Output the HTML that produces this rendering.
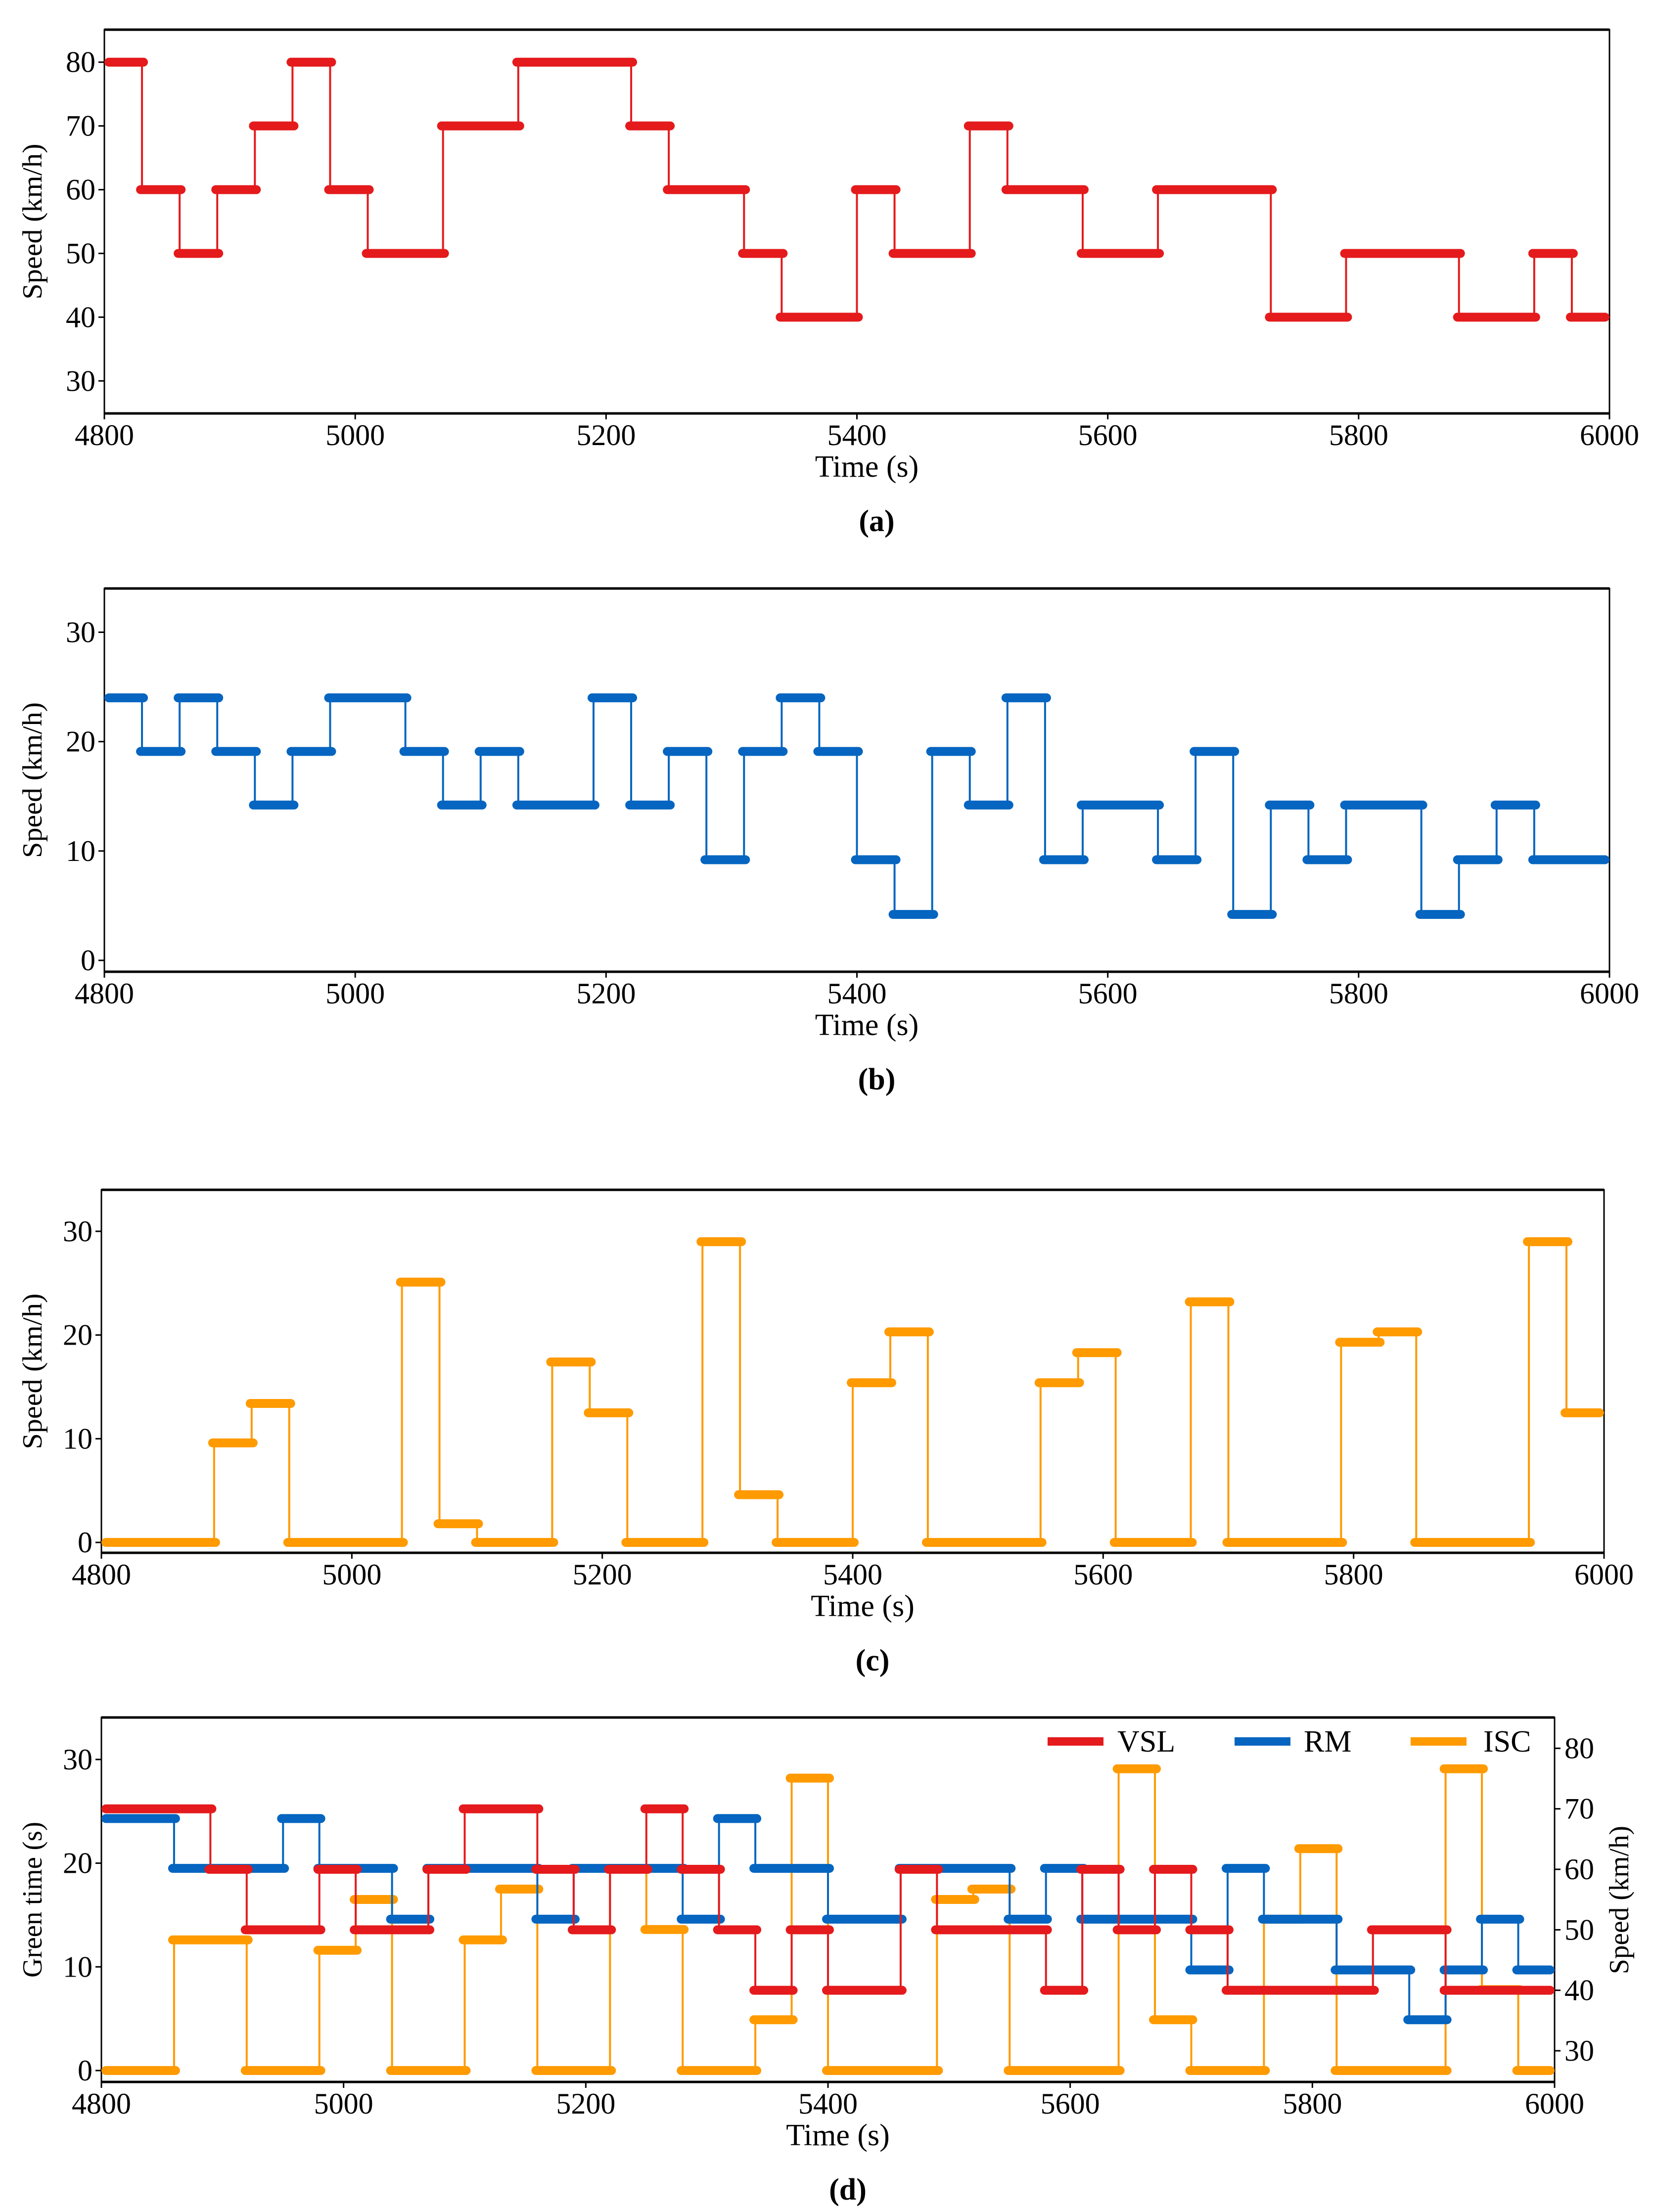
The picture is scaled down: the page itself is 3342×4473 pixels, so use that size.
<!DOCTYPE html>
<html><head><meta charset="utf-8"><style>
html,body{margin:0;padding:0;background:#fff}
svg{display:block}
text{font-family:"Liberation Serif","Times New Roman",serif;fill:#000}
</style></head><body>
<svg id="fig" width="3342" height="4473" viewBox="0 0 3342 4473" xmlns="http://www.w3.org/2000/svg"></svg>
<script>
// ---- data (30 s control intervals starting at 4800 s) ----
const intervalStart = 4800;
const intervalLen = 30;
const xTicks = [4800, 5000, 5200, 5400, 5600, 5800, 6000];
const ticksA = [30, 40, 50, 60, 70, 80];
const ticksB = [0, 10, 20, 30];
const ticksDRight = [30, 40, 50, 60, 70, 80];
const vslA = [80,60,50,60,70,80,60,50,50,70, 70,80,80,80,70,60,60,50,40,40, 60,50,50,70,60,60,50,50,60,60, 60,40,40,50,50,50,40,40,50,40];
const rmB = [24,19.1,24,19.1,14.2,19.1,24,24,19.1,14.2, 19.1,14.2,14.2,24,14.2,19.1,9.2,19.1,24,19.1, 9.2,4.2,19.1,14.2,24,9.2,14.2,14.2,9.2,19.1, 4.2,14.2,9.2,14.2,14.2,4.2,9.2,14.2,9.2,9.2];
const iscC = [0,0,0,9.6,13.4,0,0,0,25.1,1.8, 0,0,17.4,12.5,0,0,29.0,4.6,0,0, 15.4,20.3,0,0,0,15.4,18.3,0,0,23.2, 0,0,0,19.3,20.3,0,0,0,29.0,12.5];
const vslD = [70,70,70,60,50,50,60,50,50,60, 70,70,60,50,60,70,60,50,40,50, 40,40,60,50,50,50,40,60,50,60, 50,40,40,40,40,50,50,40,40,40];
const rmD = [24.3,24.3,19.5,19.5,19.5,24.3,19.5,19.5,14.6,19.5, 19.5,19.5,14.6,19.5,19.5,19.5,14.6,24.3,19.5,19.5, 14.6,14.6,19.5,19.5,19.5,14.6,19.5,14.6,14.6,14.6, 9.7,19.5,14.6,14.6,9.7,9.7,4.9,9.7,14.6,9.7];
const iscD = [0,0,12.6,12.6,0,0,11.6,16.5,0,0, 12.6,17.5,0,0,19.5,13.6,0,0,4.9,28.2, 0,0,0,16.5,17.5,0,0,0,29.1,4.9, 0,0,14.6,21.4,0,0,0,29.1,7.8,0];

const RED = '#e41a1c', BLUE = '#0565c0', ORANGE = '#ff9a00';
const NS = 'http://www.w3.org/2000/svg';
const svg = document.getElementById('fig');

function mk(tag, attrs, parent) {
  const e = document.createElementNS(NS, tag);
  for (const k in attrs) e.setAttribute(k, attrs[k]);
  (parent || svg).appendChild(e);
  return e;
}

function makeAxes(p) {
  const g = mk('g', {});
  
  
  p.sx = t => p.x0 + (t - 4800) / 1200 * (p.x1 - p.x0);
  p.sy = v => p.yB - (v - p.vmin) / (p.vmax - p.vmin) * (p.yB - p.yT);
  p.g = g;
  return p;
}

function drawFrame(p, tickVals, ylabel, cap) {
  const g = p.g;
  const f = mk('rect', {x: p.x0, y: p.yT, width: p.x1 - p.x0, height: p.yB - p.yT, fill: 'none', stroke: '#000', 'stroke-width': 3}, g);
  
  
  mk('line', {x1: p.x0, y1: p.yT, x2: p.x1, y2: p.yT, stroke: '#000', 'stroke-width': 5}, g);
  mk('line', {x1: p.x0, y1: p.yB, x2: p.x1, y2: p.yB, stroke: '#000', 'stroke-width': 5}, g);
  xTicks.forEach(t => {
    const x = p.sx(t);
    mk('line', {x1: x, y1: p.yB, x2: x, y2: p.yB + 12, stroke: '#000', 'stroke-width': 3}, g);
    const tx = mk('text', {x: x, y: p.yB + 64, 'text-anchor': 'middle', 'font-size': 60}, g);
    tx.textContent = t;
    
    
  });
  tickVals.forEach(v => {
    const y = p.sy(v);
    mk('line', {x1: p.x0 - 12, y1: y, x2: p.x0, y2: y, stroke: '#000', 'stroke-width': 3}, g);
    const tx = mk('text', {x: p.x0 - 18, y: y + 20, 'text-anchor': 'end', 'font-size': 60}, g);
    tx.textContent = v;
    
    
  });
  const xt = mk('text', {x: (p.x0 + p.x1) / 2 + 20, y: p.yB + 128, 'text-anchor': 'middle', 'font-size': 62}, g);
  xt.textContent = 'Time (s)';
  
  
  const cy = (p.yT + p.yB) / 2;
  const yt = mk('text', {x: 0, y: 0, 'text-anchor': 'middle', 'font-size': 56, textLength: 315, lengthAdjust: 'spacingAndGlyphs', transform: `translate(84,${cy}) rotate(-90)`}, g);
  yt.textContent = ylabel;
  
  
  const c = mk('text', {x: (p.x0 + p.x1) / 2 + 40, y: p.yB + 238, 'text-anchor': 'middle', 'font-size': 62, 'font-weight': 'bold'}, g);
  c.textContent = cap;
  
  
}

function drawSteps(p, vals, color, sy, name) {
  const g = mk('g', {}, p.g);
  
  
  const n = vals.length;
  const tOf = i => intervalStart + i * intervalLen;
  for (let i = 1; i < n; i++) {
    if (vals[i] !== vals[i - 1]) {
      const x = p.sx(tOf(i));
      const l = mk('line', {x1: x, y1: sy(vals[i - 1]), x2: x, y2: sy(vals[i]), stroke: color, 'stroke-width': 4}, g);
      
      
    }
  }
  let s = 0;
  for (let i = 1; i <= n; i++) {
    if (i === n || vals[i] !== vals[s]) {
      const xa = p.sx(tOf(s)), xb = p.sx(tOf(i));
      const a = Math.max(p.x0, xa - 12), b = Math.min(p.x1, xb + 12);
      const y = sy(vals[s]);
      const bar = mk('line', {x1: a + 9, y1: y, x2: b - 9, y2: y, stroke: color, 'stroke-width': 18, 'stroke-linecap': 'round'}, g);
      
      
      s = i;
    }
  }
}

// panel a
const pa = makeAxes({name: 'panel-a-vsl', x0: 211, x1: 3254, yT: 60, yB: 836, vmin: 24.9, vmax: 85.1});
drawFrame(pa, ticksA, 'Speed (km/h)', '(a)');
drawSteps(pa, vslA, RED, pa.sy, 'vsl-series');

// panel b
const pb = makeAxes({name: 'panel-b-rm', x0: 211, x1: 3254, yT: 1190, yB: 1965, vmin: -1.04, vmax: 34.0});
drawFrame(pb, ticksB, 'Speed (km/h)', '(b)');
drawSteps(pb, rmB, BLUE, pb.sy, 'rm-series');

// panel c
const pc = makeAxes({name: 'panel-c-isc', x0: 205, x1: 3243, yT: 2406, yB: 3140, vmin: -1.0, vmax: 34.0});
drawFrame(pc, ticksB, 'Speed (km/h)', '(c)');
drawSteps(pc, iscC, ORANGE, pc.sy, 'isc-series');

// panel d
const pd = makeAxes({name: 'panel-d-combined', x0: 205, x1: 3143, yT: 3473, yB: 4210, vmin: -1.1, vmax: 34.05});
drawFrame(pd, ticksB, 'Green time (s)', '(d)');
const syR = v => pd.yB - (v - 24.85) / (85.1 - 24.85) * (pd.yB - pd.yT);
ticksDRight.forEach(v => {
  const y = syR(v);
  mk('line', {x1: pd.x1, y1: y, x2: pd.x1 + 12, y2: y, stroke: '#000', 'stroke-width': 3}, pd.g);
  const tx = mk('text', {x: pd.x1 + 20, y: y + 20, 'font-size': 60}, pd.g);
  tx.textContent = v;
  
  
});
const ry = mk('text', {x: 0, y: 0, 'text-anchor': 'middle', 'font-size': 56, textLength: 300, lengthAdjust: 'spacingAndGlyphs', transform: `translate(3292,3842) rotate(-90)`}, pd.g);
ry.textContent = 'Speed (km/h)';


drawSteps(pd, iscD, ORANGE, pd.sy, 'isc-series');
drawSteps(pd, rmD, BLUE, pd.sy, 'rm-series');
drawSteps(pd, vslD, RED, syR, 'vsl-series');

// legend
const leg = mk('g', {});


[['VSL', RED, 2118, 2259], ['RM', BLUE, 2496, 2636], ['ISC', ORANGE, 2852, 2999]].forEach(([lab, col, sx, tx]) => {
  const e = mk('g', {}, leg);
  
  
  mk('rect', {x: sx, y: 3513, width: 113, height: 17, fill: col}, e);
  const t = mk('text', {x: tx, y: 3542, 'font-size': 62}, e);
  t.textContent = lab;
});
</script>
</body></html>
